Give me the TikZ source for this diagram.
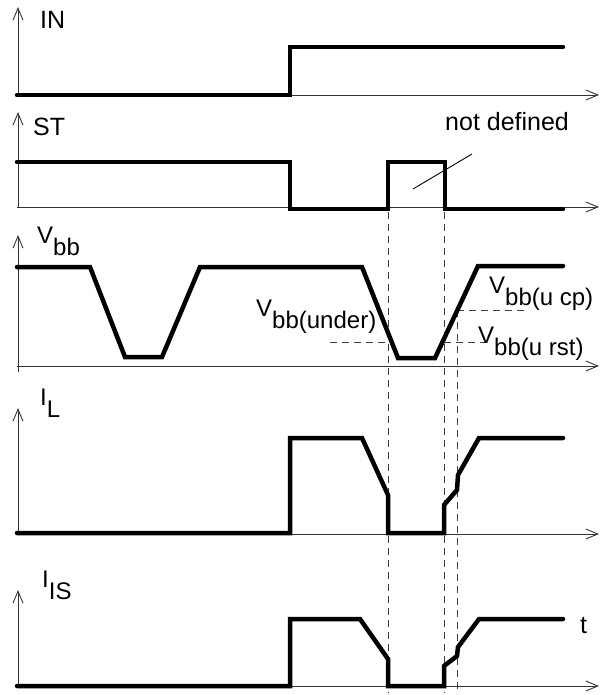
\documentclass[tikz,border=0pt]{standalone}
\usepackage{fontspec}
\setmainfont{Liberation Sans}
\usetikzlibrary{arrows.meta}

\newcommand{\subl}[2]{#1\raisebox{-12pt}{#2}}

\begin{document}
\begin{tikzpicture}[x=1pt,y=-1pt,
	axis/.style={black!80,line width=0.9pt,-{Straight Barb[length=12pt,width=10pt]}},
	signal/.style={line width=4.5pt,line cap=round,line join=miter},
	guide/.style={black!75,line width=0.9pt,dash pattern=on 7pt off 5pt},
	lbl/.style={anchor=base west,inner sep=0pt,font=\fontsize{24}{28}\selectfont}]
	\useasboundingbox (0,0) rectangle (600,695);
	% axes
	\foreach \ya/\yb in {7/95, 112/208, 235/372, 408/534, 590/687}
	\draw[axis] (18,\yb) -- (18,\ya);
	\foreach \y in {95, 207, 366, 534, 686}
	\draw[axis] (17,\y) -- (599,\y);
	% guide lines
	\draw[guide] (388,212) -- (388,693);
	\draw[guide] (444,212) -- (444,693);
	\draw[guide] (457,310) -- (457,693);
	\draw[guide] (330,342) -- (386,342);
	\draw[guide] (444,342) -- (486,342);
	\draw[guide] (457,310) -- (528,310);
	% signals
	\draw[signal] (17,95) -- (290,95) -- (290,47) -- (563,47);
	\draw[signal] (17,162) -- (290,162) -- (290,209) -- (388,209) -- (388,162) -- (445,162) -- (445,209) -- (563,209);
	\draw[signal] (17,267) -- (90,267) -- (125,357) -- (162,357) -- (200,267) -- (362,267) -- (398,358) -- (435,358) -- (478,266) -- (563,266);
	\draw[signal] (17,533) -- (290,533) -- (290,438) -- (362,438) -- (388,495) -- (388,533) -- (444,533) -- (444,505) -- (457,490) -- (458,475) -- (479,438) -- (563,438);
	\draw[signal] (17,686) -- (290,686) -- (290,619) -- (360,619) -- (388,659) -- (388,686) -- (444,686) -- (444,666) -- (457,656) -- (458,647) -- (479,619) -- (563,619);
	% labels
	\node[lbl,font=\fontsize{25}{28}\selectfont] (in) at (40,29) {IN};
	\node[lbl,font=\fontsize{25}{28}\selectfont] (st) at (33,136) {ST};
	\node[lbl] (vbb) at (37,243) {\subl{V}{bb}};
	\node[lbl] (il) at (40,405) {\subl{I}{L}};
	\node[lbl] (iis) at (42,587) {\subl{I}{IS}};
	\node[lbl] (under) at (256,316) {\subl{V}{bb(under)}};
	\node[lbl] (ucp) at (489,293) {\subl{V}{bb(u cp)}};
	\node[lbl] (urst) at (478,343) {\subl{V}{bb(u rst)}};
	\node[lbl,font=\fontsize{25}{28}\selectfont] (t) at (580,633) {t};
	\node[lbl,font=\fontsize{25}{28}\selectfont] (nd) at (445,131) {not defined};
	\draw[line width=0.9pt] (413,189) -- (472,154);
\end{tikzpicture}
\end{document}
